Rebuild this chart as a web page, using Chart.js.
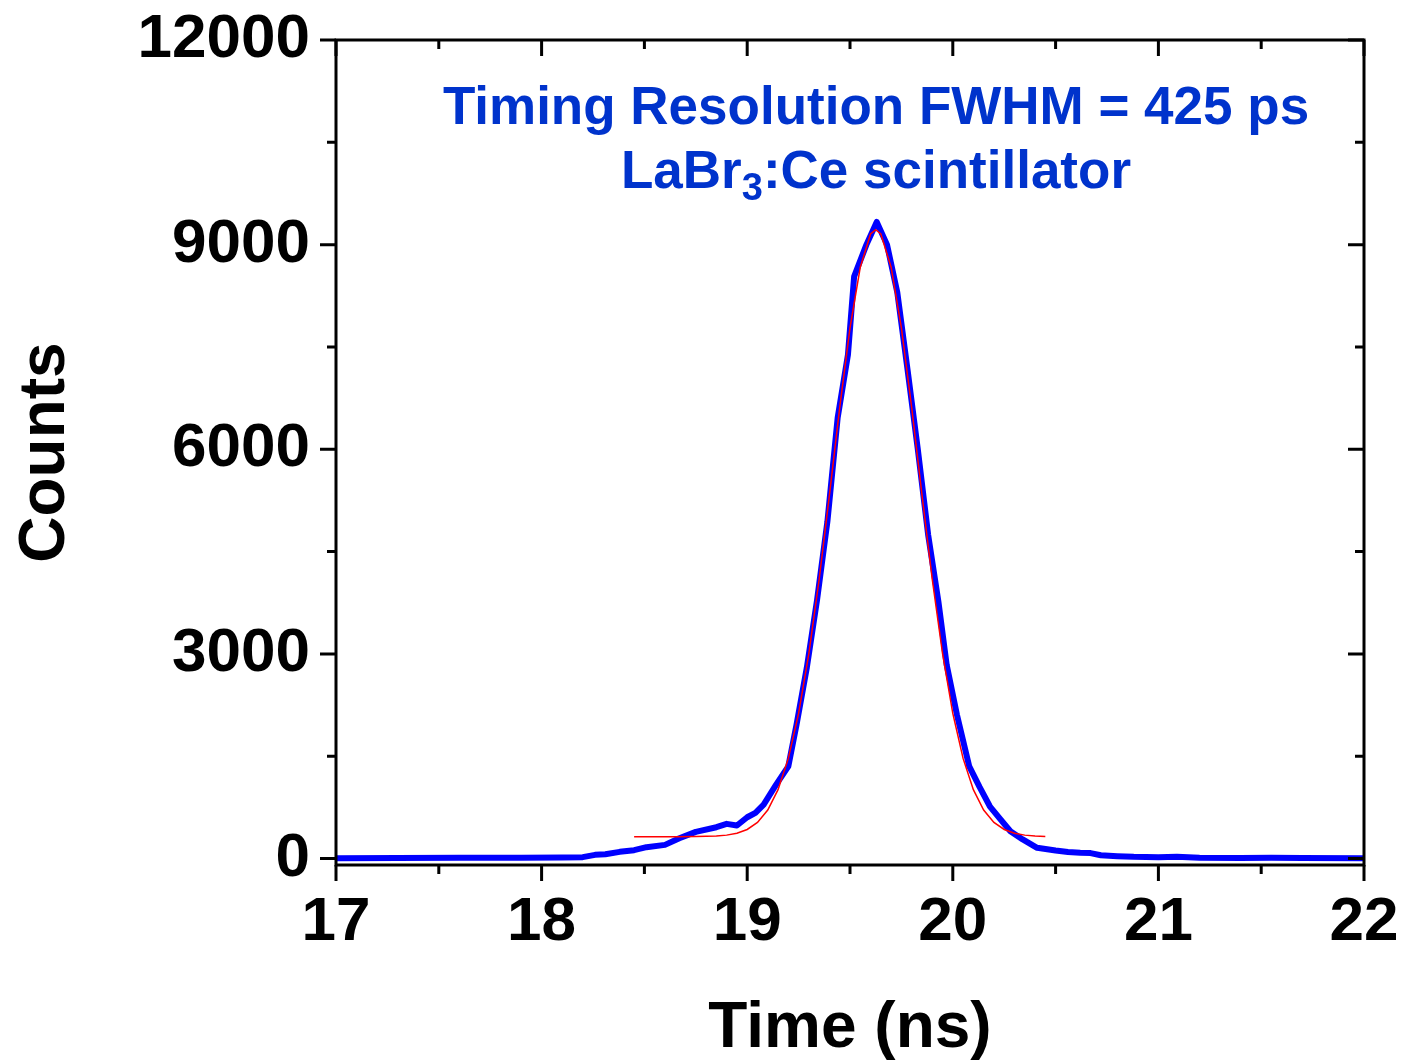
<!DOCTYPE html>
<html>
<head>
<meta charset="utf-8">
<script src="https://cdn.jsdelivr.net/npm/chart.js@4.4.1/dist/chart.umd.min.js"></script>
<style>
  html, body { margin: 0; padding: 0; background: #fff; }
  canvas { display: block; }
</style>
</head>
<body>
<canvas id="timingChart" width="1405" height="1063"></canvas>
<script>
// measured spectrum (blue)
const timeNs = [17.00, 17.30, 17.60, 17.90, 18.10, 18.20, 18.26, 18.31, 18.38, 18.45,
  18.51, 18.60, 18.67, 18.75, 18.85, 18.90, 18.95, 19.00, 19.04, 19.08,
  19.14, 19.20, 19.24, 19.29, 19.34, 19.39, 19.44, 19.49, 19.52, 19.58,
  19.63, 19.68, 19.73, 19.78, 19.83, 19.88, 19.93, 19.97, 20.02, 20.08,
  20.13, 20.18, 20.23, 20.28, 20.34, 20.41, 20.50, 20.56, 20.62, 20.67,
  20.72, 20.80, 20.88, 21.00, 21.09, 21.20, 21.40, 21.55, 21.70, 22.00];
const counts = [5, 8, 10, 12, 15, 20, 54, 63, 98, 122,
  166, 200, 297, 391, 459, 508, 484, 605, 670, 791,
  1080, 1350, 1963, 2799, 3795, 4938, 6462, 7385, 8530, 9000,
  9333, 9000, 8300, 7165, 5993, 4747, 3766, 2842, 2110, 1350,
  1050, 766, 580, 400, 280, 157, 117, 95, 83, 80,
  48, 35, 25, 20, 25, 10, 8, 12, 8, 5];

// gaussian fit (red)
const fitTime = [18.45, 18.55, 18.65, 18.75, 18.85, 18.90, 18.95, 19.00, 19.05, 19.10,
  19.15, 19.20, 19.25, 19.30, 19.35, 19.40, 19.45, 19.50, 19.55, 19.60,
  19.625, 19.65, 19.70, 19.75, 19.80, 19.85, 19.90, 19.95, 20.00, 20.05,
  20.10, 20.15, 20.20, 20.25, 20.30, 20.35, 20.40, 20.45];
const fitCounts = [320, 320, 320, 322, 330, 343, 371, 426, 529, 711,
  1010, 1468, 2127, 3008, 4094, 5331, 6612, 7778, 8669, 9157,
  9220, 9157, 8669, 7778, 6612, 5331, 4094, 3008, 2127, 1468,
  1010, 711, 529, 426, 371, 343, 330, 324];

// ticks
const xMajorTicks = [17, 18, 19, 20, 21, 22];
const xMinorTicks = [17.5, 18.5, 19.5, 20.5, 21.5];
const yMajorTicks = [0, 3000, 6000, 9000, 12000];
const yMinorTicks = [1500, 4500, 7500, 10500];

const titleLine1 = 'Timing Resolution FWHM = 425 ps';
const titleLine2 = ['LaBr', '3', ':Ce scintillator'];

const FONT = '"Liberation Sans", Arial, sans-serif';
const TEXT_BLUE = '#0033cc';

// frame with minor/major ticks on all four sides
const framePlugin = {
  id: 'frame',
  afterDraw(chart) {
    const { ctx, chartArea: a, scales: { x, y } } = chart;
    ctx.save();
    ctx.strokeStyle = '#000';
    ctx.lineWidth = 3;
    ctx.lineCap = 'butt';
    ctx.strokeRect(a.left, a.top, a.right - a.left, a.bottom - a.top);
    ctx.beginPath();
    const major = 16, minor = 9;
    xMajorTicks.forEach(v => {
      const px = x.getPixelForValue(v);
      ctx.moveTo(px, a.bottom); ctx.lineTo(px, a.bottom + major);
      ctx.moveTo(px, a.top); ctx.lineTo(px, a.top + major);
    });
    xMinorTicks.forEach(v => {
      const px = x.getPixelForValue(v);
      ctx.moveTo(px, a.bottom); ctx.lineTo(px, a.bottom + minor);
      ctx.moveTo(px, a.top); ctx.lineTo(px, a.top + minor);
    });
    yMajorTicks.forEach(v => {
      const py = y.getPixelForValue(v);
      ctx.moveTo(a.left, py); ctx.lineTo(a.left - major, py);
      ctx.moveTo(a.right, py); ctx.lineTo(a.right - major, py);
    });
    yMinorTicks.forEach(v => {
      const py = y.getPixelForValue(v);
      ctx.moveTo(a.left, py); ctx.lineTo(a.left - minor, py);
      ctx.moveTo(a.right, py); ctx.lineTo(a.right - minor, py);
    });
    ctx.stroke();

    // annotation text
    const cx = (a.left + a.right) / 2 + 26;
    ctx.fillStyle = TEXT_BLUE;
    ctx.textBaseline = 'alphabetic';
    ctx.textAlign = 'center';
    ctx.font = 'bold 53px ' + FONT;
    ctx.fillText(titleLine1, cx, 124);

    const mainFont = 'bold 53px ' + FONT;
    const subFont = 'bold 38px ' + FONT;
    ctx.textAlign = 'left';
    ctx.font = mainFont;
    const w0 = ctx.measureText(titleLine2[0]).width;
    const w2 = ctx.measureText(titleLine2[2]).width;
    ctx.font = subFont;
    const w1 = ctx.measureText(titleLine2[1]).width;
    let sx = cx - (w0 + w1 + w2) / 2;
    ctx.font = mainFont;
    ctx.fillText(titleLine2[0], sx, 188);
    ctx.font = subFont;
    ctx.fillText(titleLine2[1], sx + w0, 200);
    ctx.font = mainFont;
    ctx.fillText(titleLine2[2], sx + w0 + w1, 188);
    ctx.restore();
  }
};

const ctx = document.getElementById('timingChart');
new Chart(ctx, {
  type: 'line',
  data: {
    datasets: [{
      label: 'Fit',
      data: fitTime.map((t, i) => ({ x: t, y: fitCounts[i] })),
      borderColor: '#ff0000',
      borderWidth: 1.5,
      pointRadius: 0,
      tension: 0,
      order: 0
    }, {
      label: 'Counts',
      data: timeNs.map((t, i) => ({ x: t, y: counts[i] })),
      borderColor: '#0000ff',
      borderWidth: 6,
      pointRadius: 0,
      tension: 0,
      borderJoinStyle: 'round',
      order: 1
    }]
  },
  options: {
    responsive: false,
    devicePixelRatio: 1,
    animation: false,
    layout: { padding: { top: 40, right: 41, left: 0, bottom: 0 } },
    plugins: {
      legend: { display: false },
      tooltip: { enabled: false }
    },
    scales: {
      x: {
        type: 'linear',
        min: 17,
        max: 22,
        grid: { display: false, drawTicks: false },
        border: { display: false },
        afterBuildTicks: axis => { axis.ticks = xMajorTicks.map(v => ({ value: v })); },
        afterFit: axis => {
          axis.height = 198;
          axis.paddingLeft = 0;
          axis.paddingRight = 0;
        },
        ticks: {
          padding: 21,
          maxRotation: 0,
          color: '#000',
          font: { family: FONT, size: 62, weight: 'bold' },
          callback: v => String(v)
        },
        title: {
          display: true,
          text: 'Time (ns)',
          color: '#000',
          padding: { top: 0, bottom: -5 },
          font: { family: FONT, size: 64, weight: 'bold' }
        }
      },
      y: {
        min: -95,
        max: 12000,
        grid: { display: false, drawTicks: false },
        border: { display: false },
        afterBuildTicks: axis => { axis.ticks = yMajorTicks.map(v => ({ value: v })); },
        afterFit: axis => {
          axis.width = 336;
          axis.paddingTop = 0;
          axis.paddingBottom = 0;
        },
        ticks: {
          padding: 26,
          color: '#000',
          font: { family: FONT, size: 62, weight: 'bold' },
          callback: v => String(v)
        },
        title: {
          display: true,
          text: 'Counts',
          color: '#000',
          padding: { top: 8, bottom: 0 },
          font: { family: FONT, size: 64, weight: 'bold' }
        }
      }
    }
  },
  plugins: [framePlugin]
});
</script>
</body>
</html>
